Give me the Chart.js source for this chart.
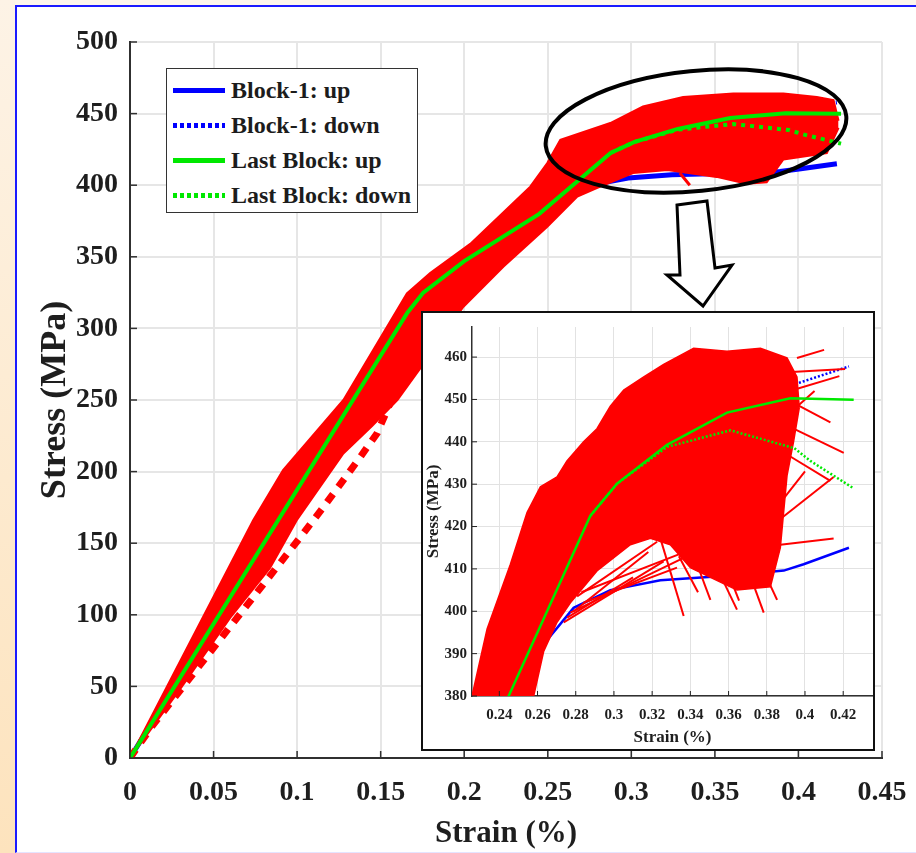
<!DOCTYPE html>
<html>
<head>
<meta charset="utf-8">
<title>Stress-strain cycles</title>
<script src="https://cdn.jsdelivr.net/npm/chart.js@4.4.1/dist/chart.umd.min.js"></script>
<style>
  html, body { margin: 0; padding: 0; }
  body { width: 916px; height: 853px; position: relative; overflow: hidden; background: #fff; font-family: 'Liberation Serif', 'Times New Roman', serif; }
  .strip-left { position: absolute; left: 0; top: 0; width: 15px; height: 853px; background: linear-gradient(to bottom, #fdf3e6, #fde3bd); }
  .strip-top { position: absolute; left: 15px; top: 0; width: 901px; height: 5px; background: #fdf6ec; }
  .frame { position: absolute; left: 15px; top: 5px; width: 920px; height: 845px; border-left: 2px solid #1a1aff; border-top: 2px solid #1a1aff; border-bottom: 1px solid #e4e4ff; }
  #main { position: absolute; left: 0; top: 0; }
  #marks { position: absolute; left: 0; top: 0; }
  .inset { position: absolute; left: 421px; top: 311px; width: 454px; height: 440px; box-sizing: border-box; border: 2px solid #111; background: #fff; }
  .inset canvas { position: absolute; left: 0; top: 0; }
  .legend { position: absolute; left: 166px; top: 68px; width: 252px; height: 145px; box-sizing: border-box; border: 1.5px solid #333; background: #fff; padding: 4px 0 0 6px; }
  .legend .row { height: 35px; line-height: 35px; white-space: nowrap; font-weight: bold; font-size: 24px; color: #1c1c1c; }
  .legend .swatch { display: inline-block; width: 52px; height: 5px; vertical-align: middle; margin-right: 6px; position: relative; top: -2px; }
</style>
</head>
<body>
<div class="strip-left"></div>
<div class="strip-top"></div>
<div class="frame"></div>
<canvas id="main" width="916" height="853"></canvas>
<svg id="marks" width="916" height="853">
  <ellipse cx="696" cy="131" rx="151" ry="60" transform="rotate(-5.7 696 131)" fill="none" stroke="#000" stroke-width="4"/>
  <polygon points="677,205 707,201 715,268 732,265 703,306 667,275 680,275" fill="#fff" stroke="#000" stroke-width="3"/>
</svg>
<div class="inset"><canvas id="inset" width="450" height="436"></canvas></div>
<div class="legend" id="legend"></div>

<script>
// axes
const mainXTicks = [0, 0.05, 0.1, 0.15, 0.2, 0.25, 0.3, 0.35, 0.4, 0.45];
const mainXLabels = ['0', '0.05', '0.1', '0.15', '0.2', '0.25', '0.3', '0.35', '0.4', '0.45'];
const mainYTicks = [0, 50, 100, 150, 200, 250, 300, 350, 400, 450, 500];
const insetXTicks = [0.24, 0.26, 0.28, 0.3, 0.32, 0.34, 0.36, 0.38, 0.4, 0.42];
const insetXLabels = ['0.24', '0.26', '0.28', '0.3', '0.32', '0.34', '0.36', '0.38', '0.4', '0.42'];
const insetYTicks = [380, 390, 400, 410, 420, 430, 440, 450, 460];

const seriesLabels = ['Block-1: up', 'Block-1: down', 'Last Block: up', 'Last Block: down'];

// Block-1
const block1UpX = [0, 0.09, 0.17, 0.21, 0.25, 0.2789, 0.2981, 0.3243, 0.3592, 0.3889, 0.3993, 0.423];
const block1UpY = [0, 170, 300, 345, 385, 400.8, 405, 407.3, 408.4, 409.6, 411.1, 415];
const block1DownX = [0.385, 0.398, 0.423];
const block1DownY = [452, 454.1, 457.8];

// Last block
const lastUpX = [0, 0.166, 0.1755, 0.2, 0.2449, 0.2876, 0.3016, 0.3278, 0.3592, 0.3923, 0.4255];
const lastUpY = [0, 311, 325, 347, 380, 422.5, 430.1, 439.3, 446.9, 450.3, 449.9];
const lastDownX = [0.2876, 0.3016, 0.3278, 0.361, 0.3944, 0.4028, 0.4255];
const lastDownY = [422.5, 430.1, 438.8, 442.7, 438.5, 435.5, 429];

// all other blocks (red), outline of the band on the main plot
const mainRedUpperX = [0, 0.0737, 0.0916, 0.1277, 0.1657, 0.1796, 0.2036, 0.2395, 0.2497, 0.2575, 0.2874, 0.307, 0.331, 0.361, 0.391, 0.411, 0.421, 0.424];
const mainRedUpperY = [0, 166, 201, 250, 324.5, 338.7, 359, 399, 415.5, 431.6, 443.4, 455, 461.6, 464, 464, 461.6, 459.5, 445];
const mainRedLowerX = [0, 0.03, 0.06, 0.0838, 0.0998, 0.1277, 0.145, 0.16, 0.1737, 0.1994, 0.2234, 0.2497, 0.2677, 0.2814, 0.301, 0.3216, 0.351, 0.369, 0.381, 0.391, 0.417, 0.424];
const mainRedLowerY = [0, 48, 98, 132.7, 166, 212.7, 232, 250, 272, 315, 343, 371, 392, 399, 408.5, 410.6, 405.8, 401, 402, 418, 422.5, 440];
const mainDashX = [0, 0.013, 0.1038, 0.1156, 0.1377, 0.148, 0.1557, 0.1695, 0.178];
const mainDashY = [0, 21.9, 157, 175, 210, 227, 248, 285, 305];
const mainRedStrays = [[0.329, 408.5, 0.335, 400]];

// red cloud in the zoomed view
const insetRedUpperX = [0.2257, 0.2336, 0.2458, 0.2545, 0.2615, 0.2702, 0.2754, 0.2841, 0.2911, 0.2981, 0.3051, 0.3156, 0.326, 0.3417, 0.3592, 0.3767, 0.3906, 0.3958, 0.397];
const insetRedUpperY = [380, 395.8, 411.1, 423.3, 429.4, 431.7, 435.5, 440, 443.1, 448.4, 452.2, 455.3, 458.3, 462.1, 461.4, 462.1, 459.8, 455.3, 448];
const insetRedLowerX = [0.2257, 0.258, 0.2632, 0.2702, 0.2772, 0.2911, 0.3086, 0.3191, 0.3295, 0.34, 0.3505, 0.3644, 0.3819, 0.3871, 0.3906, 0.394, 0.397];
const insetRedLowerY = [380, 380, 390.5, 397.4, 402, 409.5, 415.7, 417.2, 415.7, 410.3, 408, 405, 405.8, 415, 432, 440, 448];
const insetRedStrays = [
  [0.2737, 397.4, 0.326, 411.8],
  [0.2772, 399.7, 0.3365, 412.6],
  [0.2807, 403.5, 0.3226, 416.4],
  [0.2841, 402, 0.333, 410.3],
  [0.279, 400, 0.318, 414],
  [0.2755, 398.5, 0.31, 408],
  [0.283, 404.5, 0.34, 414.5],
  [0.3243, 417.2, 0.3365, 398.9],
  [0.3514, 412.6, 0.3644, 400.4],
  [0.3679, 412.6, 0.3784, 399.7],
  [0.3767, 411.1, 0.3854, 402.7],
  [0.3435, 411.1, 0.3505, 402.7],
  [0.334, 413, 0.344, 404.5],
  [0.359, 410, 0.3655, 402.5],
  [0.3871, 415.7, 0.415, 417.2],
  [0.3958, 459.8, 0.41, 461.7],
  [0.393, 456.5, 0.421, 457.2],
  [0.394, 449.2, 0.4133, 444.6],
  [0.394, 443.1, 0.4203, 437.4],
  [0.3906, 437, 0.4133, 430.8],
  [0.3871, 421.8, 0.415, 431.7],
  [0.39, 446, 0.405, 452],
  [0.386, 425, 0.4, 433],
  [0.392, 452, 0.418, 455.5]
];

const RED = '#ff0000';
const GREEN = '#00e800';
const BLUE = '#0000ff';
const FONT = 'Liberation Serif';

function pts(xs, ys) {
    return xs.map((x, i) => ({ x, y: ys[i] }));
}

function line(data, color, width, dash, extra) {
    return Object.assign({
        data,
        borderColor: color,
        backgroundColor: color,
        borderWidth: width,
        borderDash: dash || [],
        borderCapStyle: 'butt',
        pointRadius: 0,
        fill: false,
        tension: 0,
        clip: 0
    }, extra || {});
}

function strays(list, width) {
    return list.map(s => line([{ x: s[0], y: s[1] }, { x: s[2], y: s[3] }], RED, width));
}

// small tick marks drawn inside the plot, like the original
const innerTicks = {
    id: 'innerTicks',
    afterDatasetsDraw(chart, args, opts) {
        const { ctx, chartArea: a, scales: { x, y } } = chart;
        ctx.save();
        ctx.strokeStyle = opts.color;
        ctx.lineWidth = opts.width;
        x.ticks.forEach(t => {
            const px = x.getPixelForValue(t.value);
            ctx.beginPath();
            ctx.moveTo(px, a.bottom);
            ctx.lineTo(px, a.bottom - opts.len);
            ctx.stroke();
        });
        y.ticks.forEach(t => {
            const py = y.getPixelForValue(t.value);
            ctx.beginPath();
            ctx.moveTo(a.left, py);
            ctx.lineTo(a.left + opts.len, py);
            ctx.stroke();
        });
        ctx.restore();
    }
};

function axis(o) {
    return {
        type: 'linear',
        min: o.min,
        max: o.max,
        afterBuildTicks: s => { s.ticks = o.ticks.map(v => ({ value: v })); },
        afterFit: s => { if (o.width) s.width = o.width; if (o.height) s.height = o.height; },
        ticks: {
            autoSkip: false,
            maxRotation: 0,
            padding: o.pad,
            color: '#1e1e1e',
            font: { family: FONT, weight: 'bold', size: o.tickSize, lineHeight: o.tickLine || 1.2 },
            callback: (v, i) => o.labels ? o.labels[i] : String(v)
        },
        grid: { color: o.gridColor, lineWidth: o.gridWidth, drawTicks: false },
        border: { color: '#303030', width: o.borderWidth },
        title: {
            display: true,
            text: o.title,
            color: '#1e1e1e',
            font: { family: FONT, weight: 'bold', size: o.titleSize },
            padding: o.titlePad
        }
    };
}

// main plot (block-1 sits under the red band)
const mainSets = [
    line(pts(lastDownX, lastDownY), GREEN, 4, [4, 5]),
    line(pts(lastUpX, lastUpY), GREEN, 4),
    ...strays(mainRedStrays, 3),
    line(pts(mainDashX, mainDashY), RED, 7, [10, 9]),
    line(pts(mainRedUpperX, mainRedUpperY), RED, 2, null, { fill: '+1' }),
    line(pts(mainRedLowerX, mainRedLowerY), RED, 2),
    line(pts(block1DownX, block1DownY), BLUE, 4, [3, 4]),
    line(pts(block1UpX, block1UpY), BLUE, 5)
];

new Chart(document.getElementById('main'), {
    type: 'line',
    data: { datasets: mainSets },
    plugins: [innerTicks],
    options: {
        responsive: false,
        maintainAspectRatio: false,
        animation: false,
        layout: { padding: { left: 0, top: 42, right: 34, bottom: 0 } },
        plugins: {
            legend: { display: false },
            tooltip: { enabled: false },
            innerTicks: { color: '#303030', width: 1.5, len: 7 }
        },
        scales: {
            x: axis({
                min: 0, max: 0.45, ticks: mainXTicks, labels: mainXLabels, height: 95,
                pad: 0, tickSize: 28, tickLine: 2.46, gridColor: '#e6e6e6', gridWidth: 2, borderWidth: 2,
                title: 'Strain (%)', titleSize: 31, titlePad: { top: 0, bottom: 0 }
            }),
            y: axis({
                min: 0, max: 500, ticks: mainYTicks, width: 130,
                pad: 12, tickSize: 28, gridColor: '#e6e6e6', gridWidth: 2, borderWidth: 2,
                title: 'Stress (MPa)', titleSize: 36, titlePad: { top: 34, bottom: 0 }
            })
        }
    }
});

// zoomed view
const insetSets = [
    line(pts(lastDownX, lastDownY), GREEN, 2.5, [2, 2]),
    line(pts(lastUpX, lastUpY), GREEN, 2.5),
    ...strays(insetRedStrays, 2),
    line(pts(insetRedUpperX, insetRedUpperY), RED, 1.5, null, { fill: '+1' }),
    line(pts(insetRedLowerX, insetRedLowerY), RED, 1.5),
    line(pts(block1DownX, block1DownY), BLUE, 2.5, [2, 2]),
    line(pts(block1UpX, block1UpY), BLUE, 2.5)
];

new Chart(document.getElementById('inset'), {
    type: 'line',
    data: { datasets: insetSets },
    plugins: [innerTicks],
    options: {
        responsive: false,
        maintainAspectRatio: false,
        animation: false,
        layout: { padding: { left: 0, top: 2, right: 0, bottom: 0 } },
        plugins: {
            legend: { display: false },
            tooltip: { enabled: false },
            innerTicks: { color: '#202020', width: 1, len: 5 }
        },
        scales: {
            x: axis({
                min: 0.2257, max: 0.4356, ticks: insetXTicks, labels: insetXLabels, height: 53,
                pad: 10, tickSize: 15, gridColor: '#e2e2e2', gridWidth: 1, borderWidth: 1.5,
                title: 'Strain (%)', titleSize: 17, titlePad: { top: 0, bottom: 1 }
            }),
            y: axis({
                min: 380, max: 467.1, ticks: insetYTicks, width: 49,
                pad: 5, tickSize: 15, gridColor: '#e2e2e2', gridWidth: 1, borderWidth: 1.5,
                title: 'Stress (MPa)', titleSize: 17, titlePad: { top: 0, bottom: 0 }
            })
        }
    }
});

// legend, built from the series labels
const legendStyles = [
    { color: BLUE, dotted: false },
    { color: BLUE, dotted: true },
    { color: GREEN, dotted: false },
    { color: GREEN, dotted: true }
];
document.getElementById('legend').innerHTML = seriesLabels.map((label, i) => {
    const st = legendStyles[i];
    const bg = st.dotted
        ? `repeating-linear-gradient(90deg, ${st.color} 0 4px, transparent 4px 7px)`
        : st.color;
    return `<div class="row"><span class="swatch" style="background:${bg}"></span>${label}</div>`;
}).join('');
</script>
</body>
</html>
